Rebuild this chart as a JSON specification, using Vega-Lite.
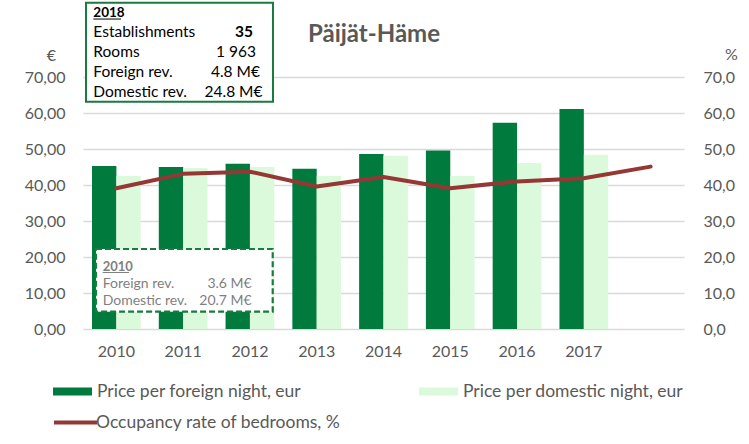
{
  "$schema": "https://vega.github.io/schema/vega-lite/v6.json",
  "width": 601,
  "height": 252,
  "autosize": {"type": "none"},
  "padding": {"left": 83, "top": 77, "right": 65, "bottom": 115},
  "background": "white",
  "config": {
    "view": {"stroke": null},
    "font": "Lato",
    "legend": {"labelFont": "Lato", "labelFontSize": 17.5, "labelColor": "#595959", "labelLimit": 400, "padding": 0, "labelOffset": 5, "orient": "none"}
  },
  "datasets": {
    "main": [
      {"year": "2010", "series": "Price per foreign night, eur", "value": 45.3},
      {"year": "2011", "series": "Price per foreign night, eur", "value": 45.0},
      {"year": "2012", "series": "Price per foreign night, eur", "value": 45.9},
      {"year": "2013", "series": "Price per foreign night, eur", "value": 44.5},
      {"year": "2014", "series": "Price per foreign night, eur", "value": 48.6},
      {"year": "2015", "series": "Price per foreign night, eur", "value": 49.6},
      {"year": "2016", "series": "Price per foreign night, eur", "value": 57.3},
      {"year": "2017", "series": "Price per foreign night, eur", "value": 61.1},
      {"year": "2010", "series": "Price per domestic night, eur", "value": 42.5},
      {"year": "2011", "series": "Price per domestic night, eur", "value": 44.7},
      {"year": "2012", "series": "Price per domestic night, eur", "value": 45.0},
      {"year": "2013", "series": "Price per domestic night, eur", "value": 42.5},
      {"year": "2014", "series": "Price per domestic night, eur", "value": 48.1},
      {"year": "2015", "series": "Price per domestic night, eur", "value": 42.5},
      {"year": "2016", "series": "Price per domestic night, eur", "value": 46.1},
      {"year": "2017", "series": "Price per domestic night, eur", "value": 48.4},
      {"year": "2010", "series": "Occupancy rate of bedrooms, %", "value": 39.1},
      {"year": "2011", "series": "Occupancy rate of bedrooms, %", "value": 43.1},
      {"year": "2012", "series": "Occupancy rate of bedrooms, %", "value": 43.7},
      {"year": "2013", "series": "Occupancy rate of bedrooms, %", "value": 39.6},
      {"year": "2014", "series": "Occupancy rate of bedrooms, %", "value": 42.2},
      {"year": "2015", "series": "Occupancy rate of bedrooms, %", "value": 39.1},
      {"year": "2016", "series": "Occupancy rate of bedrooms, %", "value": 41.0},
      {"year": "2017", "series": "Occupancy rate of bedrooms, %", "value": 41.9},
      {"year": "2018", "series": "Occupancy rate of bedrooms, %", "value": 45.1}
    ]
  },
  "resolve": {"scale": {"x": "independent", "y": "independent", "fill": "independent", "stroke": "independent", "xOffset": "independent"}},
  "layer": [
    {
      "data": {"name": "main"},
      "transform": [{"filter": {"field": "series", "equal": "Price per foreign night, eur"}}],
      "mark": {"type": "bar"},
      "encoding": {
        "x": {"field": "year", "type": "nominal", "scale": {"domain": ["2010","2011","2012","2013","2014","2015","2016","2017","2018"], "paddingInner": 0.27, "paddingOuter": 0.135},
              "axis": {"title": null, "labelAngle": 0, "labelExpr": "datum.value == '2018' ? '' : datum.value", "labelPadding": 14, "ticks": false, "domain": false, "grid": false, "labelFont": "Lato", "labelFontSize": 16, "labelColor": "#595959"}},
        "xOffset": {"field": "series", "type": "nominal", "scale": {"domain": ["Price per foreign night, eur", "Price per domestic night, eur"], "paddingInner": 0, "paddingOuter": 0}},
        "y": {"field": "value", "type": "quantitative", "scale": {"domain": [0, 70], "nice": false},
              "axis": {"orient": "left", "title": "€", "titleAngle": 0, "titleX": -32, "titleY": -22, "titleAlign": "center", "titleBaseline": "middle", "titleFont": "Lato", "titleFontSize": 16, "titleFontWeight": "normal", "titleColor": "#595959", "values": [0,10,20,30,40,50,60,70], "labelExpr": "replace(format(datum.value, '.2f'), '.', ',')", "labelPadding": 18, "labelFont": "Lato", "labelFontSize": 16, "labelColor": "#595959", "ticks": false, "domain": false, "grid": true, "gridColor": "#D9D9D9", "gridWidth": 1.3}},
        "fill": {"field": "series", "type": "nominal", "scale": {"range": ["#007A3D"]},
                 "legend": {"title": null, "orient": "none", "legendX": -30, "legendY": 295, "symbolType": "M-1,-0.2H1V0.2H-1Z", "symbolSize": 1521, "symbolStrokeWidth": 0}}
      }
    },
    {
      "data": {"name": "main"},
      "transform": [{"filter": {"field": "series", "equal": "Price per domestic night, eur"}}],
      "mark": {"type": "bar"},
      "encoding": {
        "x": {"field": "year", "type": "nominal", "scale": {"domain": ["2010","2011","2012","2013","2014","2015","2016","2017","2018"], "paddingInner": 0.27, "paddingOuter": 0.135}, "axis": null},
        "xOffset": {"field": "series", "type": "nominal", "scale": {"domain": ["Price per foreign night, eur", "Price per domestic night, eur"], "paddingInner": 0, "paddingOuter": 0}},
        "y": {"field": "value", "type": "quantitative", "scale": {"domain": [0, 70], "nice": false}, "axis": null},
        "fill": {"field": "series", "type": "nominal", "scale": {"range": ["#DBFADB"]},
                 "legend": {"title": null, "orient": "none", "legendX": 336, "legendY": 295, "symbolType": "M-1,-0.2H1V0.2H-1Z", "symbolSize": 1521, "symbolStrokeWidth": 0}}
      }
    },
    {
      "data": {"name": "main"},
      "transform": [{"filter": {"field": "series", "equal": "Occupancy rate of bedrooms, %"}}],
      "mark": {"type": "line", "strokeWidth": 4, "strokeCap": "round", "strokeJoin": "round"},
      "encoding": {
        "x": {"field": "year", "type": "nominal", "scale": {"type": "point", "domain": ["2010","2011","2012","2013","2014","2015","2016","2017","2018"], "padding": 0.5}, "axis": null},
        "y": {"field": "value", "type": "quantitative", "scale": {"domain": [0, 70], "nice": false},
              "axis": {"orient": "right", "title": "%", "titleAngle": 0, "titleX": 47, "titleY": -23, "titleAlign": "center", "titleBaseline": "middle", "titleFont": "Lato", "titleFontSize": 16, "titleFontWeight": "normal", "titleColor": "#595959", "values": [0,10,20,30,40,50,60,70], "labelExpr": "replace(format(datum.value, '.1f'), '.', ',')", "labelPadding": 19, "labelFont": "Lato", "labelFontSize": 16, "labelColor": "#595959", "ticks": false, "domain": false, "grid": false}},
        "stroke": {"field": "series", "type": "nominal", "scale": {"range": ["#953735"]},
                   "legend": {"title": null, "orient": "none", "legendX": -31, "legendY": 322, "labelOffset": -3, "symbolType": "stroke", "symbolSize": 1849, "symbolStrokeWidth": 4}}
      }
    },
    {
      "data": {"values": [{}]},
      "mark": {"type": "rect", "fill": "white", "stroke": "#1A7A40", "strokeWidth": 2},
      "encoding": {
        "x": {"datum": 0.045, "type": "quantitative", "scale": {"domain": [0, 9], "nice": false, "zero": false}, "axis": null},
        "x2": {"datum": 2.845},
        "y": {"datum": 90.6, "type": "quantitative", "scale": {"domain": [0, 70], "nice": false, "zero": false}, "axis": null},
        "y2": {"datum": 63.1}
      }
    },
    {
      "data": {"values": [{}]},
      "mark": {"type": "text", "align": "left", "baseline": "alphabetic", "font": "Lato", "fontSize": 13.5, "fontWeight": "bold", "color": "#000000"},
      "encoding": {
        "x": {"datum": 0.155, "type": "quantitative", "scale": {"domain": [0, 9], "nice": false, "zero": false}, "axis": null},
        "y": {"datum": 86.7, "type": "quantitative", "scale": {"domain": [0, 70], "nice": false, "zero": false}, "axis": null},
        "text": {"value": "2018"}
      }
    },
    {
      "data": {"values": [{}]},
      "mark": {"type": "rule", "color": "#000000", "strokeWidth": 1},
      "encoding": {
        "x": {"datum": 0.155, "type": "quantitative", "scale": {"domain": [0, 9], "nice": false, "zero": false}, "axis": null},
        "x2": {"datum": 0.569},
        "y": {"datum": 86.1, "type": "quantitative", "scale": {"domain": [0, 70], "nice": false, "zero": false}, "axis": null}
      }
    },
    {
      "data": {"values": [{}]},
      "mark": {"type": "text", "align": "left", "baseline": "alphabetic", "font": "Lato", "fontSize": 15.5, "color": "#000000"},
      "encoding": {
        "x": {"datum": 0.155, "type": "quantitative", "scale": {"domain": [0, 9], "nice": false, "zero": false}, "axis": null},
        "y": {"datum": 81.1, "type": "quantitative", "scale": {"domain": [0, 70], "nice": false, "zero": false}, "axis": null},
        "text": {"value": "Establishments"}
      }
    },
    {
      "data": {"values": [{}]},
      "mark": {"type": "text", "align": "left", "baseline": "alphabetic", "font": "Lato", "fontSize": 15.5, "color": "#000000"},
      "encoding": {
        "x": {"datum": 0.155, "type": "quantitative", "scale": {"domain": [0, 9], "nice": false, "zero": false}, "axis": null},
        "y": {"datum": 75.56, "type": "quantitative", "scale": {"domain": [0, 70], "nice": false, "zero": false}, "axis": null},
        "text": {"value": "Rooms"}
      }
    },
    {
      "data": {"values": [{}]},
      "mark": {"type": "text", "align": "left", "baseline": "alphabetic", "font": "Lato", "fontSize": 15.5, "color": "#000000"},
      "encoding": {
        "x": {"datum": 0.155, "type": "quantitative", "scale": {"domain": [0, 9], "nice": false, "zero": false}, "axis": null},
        "y": {"datum": 70.0, "type": "quantitative", "scale": {"domain": [0, 70], "nice": false, "zero": false}, "axis": null},
        "text": {"value": "Foreign rev."}
      }
    },
    {
      "data": {"values": [{}]},
      "mark": {"type": "text", "align": "left", "baseline": "alphabetic", "font": "Lato", "fontSize": 15.5, "color": "#000000"},
      "encoding": {
        "x": {"datum": 0.155, "type": "quantitative", "scale": {"domain": [0, 9], "nice": false, "zero": false}, "axis": null},
        "y": {"datum": 64.44, "type": "quantitative", "scale": {"domain": [0, 70], "nice": false, "zero": false}, "axis": null},
        "text": {"value": "Domestic rev."}
      }
    },
    {
      "data": {"values": [{}]},
      "mark": {"type": "text", "align": "right", "baseline": "alphabetic", "font": "Lato", "fontSize": 15.5, "fontWeight": "bold", "color": "#000000"},
      "encoding": {
        "x": {"datum": 2.546, "type": "quantitative", "scale": {"domain": [0, 9], "nice": false, "zero": false}, "axis": null},
        "y": {"datum": 81.1, "type": "quantitative", "scale": {"domain": [0, 70], "nice": false, "zero": false}, "axis": null},
        "text": {"value": "35"}
      }
    },
    {
      "data": {"values": [{}]},
      "mark": {"type": "text", "align": "right", "baseline": "alphabetic", "font": "Lato", "fontSize": 15.5, "color": "#000000"},
      "encoding": {
        "x": {"datum": 2.591, "type": "quantitative", "scale": {"domain": [0, 9], "nice": false, "zero": false}, "axis": null},
        "y": {"datum": 75.56, "type": "quantitative", "scale": {"domain": [0, 70], "nice": false, "zero": false}, "axis": null},
        "text": {"value": "1 963"}
      }
    },
    {
      "data": {"values": [{}]},
      "mark": {"type": "text", "align": "right", "baseline": "alphabetic", "font": "Lato", "fontSize": 15.5, "color": "#000000"},
      "encoding": {
        "x": {"datum": 2.65, "type": "quantitative", "scale": {"domain": [0, 9], "nice": false, "zero": false}, "axis": null},
        "y": {"datum": 70.0, "type": "quantitative", "scale": {"domain": [0, 70], "nice": false, "zero": false}, "axis": null},
        "text": {"value": "4.8 M€"}
      }
    },
    {
      "data": {"values": [{}]},
      "mark": {"type": "text", "align": "right", "baseline": "alphabetic", "font": "Lato", "fontSize": 15.5, "color": "#000000"},
      "encoding": {
        "x": {"datum": 2.688, "type": "quantitative", "scale": {"domain": [0, 9], "nice": false, "zero": false}, "axis": null},
        "y": {"datum": 64.44, "type": "quantitative", "scale": {"domain": [0, 70], "nice": false, "zero": false}, "axis": null},
        "text": {"value": "24.8 M€"}
      }
    },
    {
      "data": {"values": [{}]},
      "mark": {"type": "rect", "fill": "white", "stroke": "#1A7A40", "strokeWidth": 2.2, "strokeDash": [6, 3]},
      "encoding": {
        "x": {"datum": 0.195, "type": "quantitative", "scale": {"domain": [0, 9], "nice": false, "zero": false}, "axis": null},
        "x2": {"datum": 2.841},
        "y": {"datum": 22.22, "type": "quantitative", "scale": {"domain": [0, 70], "nice": false, "zero": false}, "axis": null},
        "y2": {"datum": 4.81}
      }
    },
    {
      "data": {"values": [{}]},
      "mark": {"type": "text", "align": "left", "baseline": "alphabetic", "font": "Lato", "fontSize": 13, "fontWeight": "bold", "color": "#7F7F7F"},
      "encoding": {
        "x": {"datum": 0.295, "type": "quantitative", "scale": {"domain": [0, 9], "nice": false, "zero": false}, "axis": null},
        "y": {"datum": 16.25, "type": "quantitative", "scale": {"domain": [0, 70], "nice": false, "zero": false}, "axis": null},
        "text": {"value": "2010"}
      }
    },
    {
      "data": {"values": [{}]},
      "mark": {"type": "rule", "color": "#7F7F7F", "strokeWidth": 1},
      "encoding": {
        "x": {"datum": 0.295, "type": "quantitative", "scale": {"domain": [0, 9], "nice": false, "zero": false}, "axis": null},
        "x2": {"datum": 0.689},
        "y": {"datum": 15.69, "type": "quantitative", "scale": {"domain": [0, 70], "nice": false, "zero": false}, "axis": null}
      }
    },
    {
      "data": {"values": [{}]},
      "mark": {"type": "text", "align": "left", "baseline": "alphabetic", "font": "Lato", "fontSize": 14, "color": "#7F7F7F"},
      "encoding": {
        "x": {"datum": 0.295, "type": "quantitative", "scale": {"domain": [0, 9], "nice": false, "zero": false}, "axis": null},
        "y": {"datum": 11.31, "type": "quantitative", "scale": {"domain": [0, 70], "nice": false, "zero": false}, "axis": null},
        "text": {"value": "Foreign rev."}
      }
    },
    {
      "data": {"values": [{}]},
      "mark": {"type": "text", "align": "left", "baseline": "alphabetic", "font": "Lato", "fontSize": 14, "color": "#7F7F7F"},
      "encoding": {
        "x": {"datum": 0.295, "type": "quantitative", "scale": {"domain": [0, 9], "nice": false, "zero": false}, "axis": null},
        "y": {"datum": 6.67, "type": "quantitative", "scale": {"domain": [0, 70], "nice": false, "zero": false}, "axis": null},
        "text": {"value": "Domestic rev."}
      }
    },
    {
      "data": {"values": [{}]},
      "mark": {"type": "text", "align": "right", "baseline": "alphabetic", "font": "Lato", "fontSize": 14, "color": "#7F7F7F"},
      "encoding": {
        "x": {"datum": 2.526, "type": "quantitative", "scale": {"domain": [0, 9], "nice": false, "zero": false}, "axis": null},
        "y": {"datum": 11.31, "type": "quantitative", "scale": {"domain": [0, 70], "nice": false, "zero": false}, "axis": null},
        "text": {"value": "3.6 M€"}
      }
    },
    {
      "data": {"values": [{}]},
      "mark": {"type": "text", "align": "right", "baseline": "alphabetic", "font": "Lato", "fontSize": 14, "color": "#7F7F7F"},
      "encoding": {
        "x": {"datum": 2.526, "type": "quantitative", "scale": {"domain": [0, 9], "nice": false, "zero": false}, "axis": null},
        "y": {"datum": 6.67, "type": "quantitative", "scale": {"domain": [0, 70], "nice": false, "zero": false}, "axis": null},
        "text": {"value": "20.7 M€"}
      }
    },
    {
      "data": {"values": [{}]},
      "mark": {"type": "text", "align": "center", "baseline": "alphabetic", "font": "Lato", "fontSize": 24, "fontWeight": "bold", "color": "#595959"},
      "encoding": {
        "x": {"datum": 4.358, "type": "quantitative", "scale": {"domain": [0, 9], "nice": false, "zero": false}, "axis": null},
        "y": {"datum": 79.6, "type": "quantitative", "scale": {"domain": [0, 70], "nice": false, "zero": false}, "axis": null},
        "text": {"value": "Päijät-Häme"}
      }
    }
  ]
}
